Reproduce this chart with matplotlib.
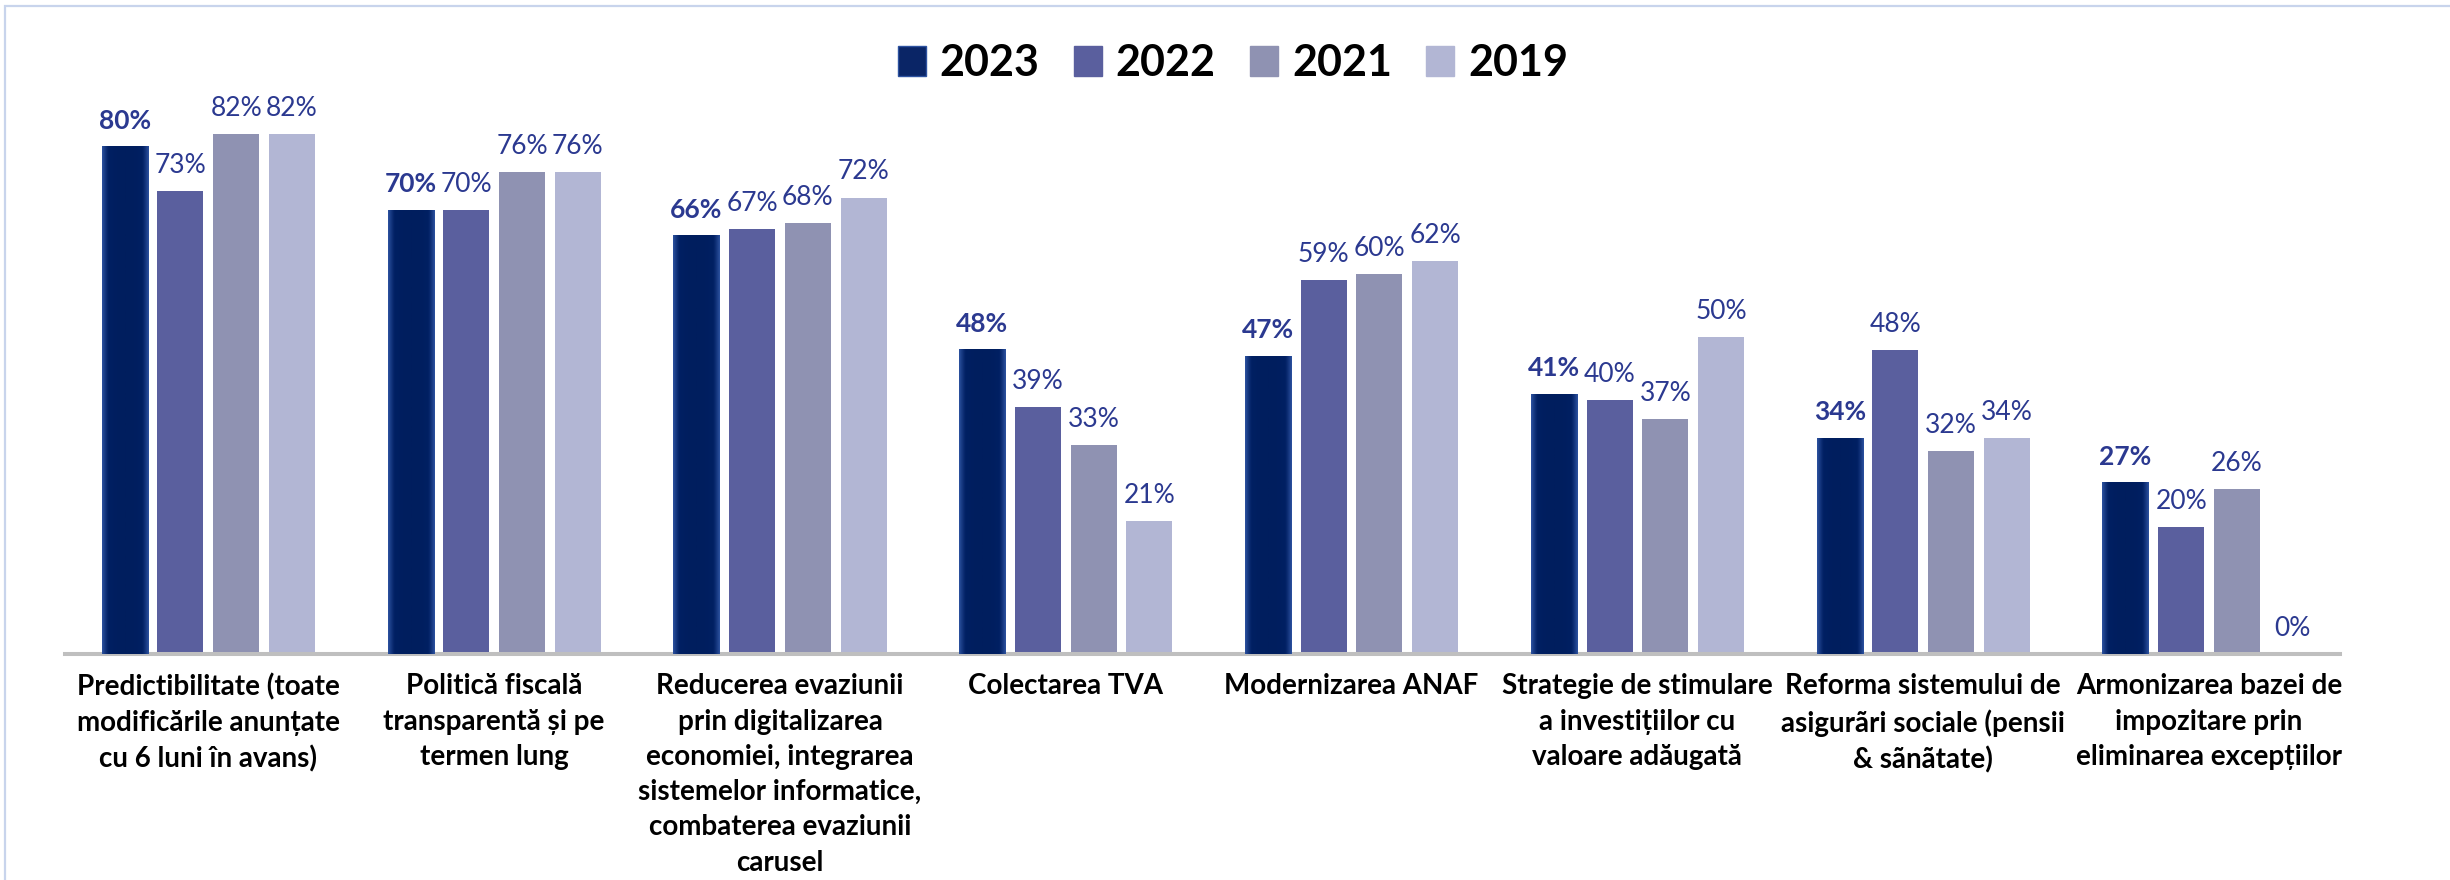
import numpy as np
import matplotlib
matplotlib.use("Agg")
import matplotlib.pyplot as plt
from matplotlib.patches import Patch, Rectangle
from matplotlib.colors import LinearSegmentedColormap

plt.rcParams['font.family'] = ['Lato', 'DejaVu Sans']

categories = [
    "Predictibilitate (toate\nmodificările anunțate\ncu 6 luni în avans)",
    "Politică fiscală\ntransparentă și pe\ntermen lung",
    "Reducerea evaziunii\nprin digitalizarea\neconomiei, integrarea\nsistemelor informatice,\ncombaterea evaziunii\ncarusel",
    "Colectarea TVA",
    "Modernizarea ANAF",
    "Strategie de stimulare\na investițiilor cu\nvaloare adăugată",
    "Reforma sistemului de\nasigurãri sociale (pensii\n& sãnãtate)",
    "Armonizarea bazei de\nimpozitare prin\neliminarea excepțiilor",
]
years = ["2023", "2022", "2021", "2019"]
v2023 = [80, 70, 66, 48, 47, 41, 34, 27]
v2022 = [73, 70, 67, 39, 59, 40, 48, 20]
v2021 = [82, 76, 68, 33, 60, 37, 32, 26]
v2019 = [82, 76, 72, 21, 62, 50, 34, 0]
series = [v2023, v2022, v2021, v2019]

colors = ["#0A2566", "#5A5F9E", "#8F92B2", "#B2B6D4"]
label_color = "#2B3990"

W, H = 2450, 880
fig = plt.figure(figsize=(W / 100, H / 100), dpi=100)
fig.patch.set_facecolor("white")

ax_left, ax_right = 65.4, 2352.0
ax_top, ax_bottom = 20.0, 654.0
ax = fig.add_axes([ax_left / W, 1 - ax_bottom / H, (ax_right - ax_left) / W, (ax_bottom - ax_top) / H])

x = np.arange(len(categories))
bw = 0.161
step = 0.195
offsets = [-1.5 * step, -0.5 * step, 0.5 * step, 1.5 * step]

grad_cmap = LinearSegmentedColormap.from_list("g", ["#001E5E", "#012063", "#2D52A0"])
grad = np.abs(np.linspace(-1, 1, 128)) ** 2.2
grad = grad[np.newaxis, :]

for i, (vals, col, off) in enumerate(zip(series, colors, offsets)):
    bars = ax.bar(x + off, vals, width=bw, color=col, edgecolor="none", zorder=2)
    if i == 0:
        for b in bars:
            x0, y0 = b.get_x(), b.get_y()
            ax.imshow(grad, cmap=grad_cmap, aspect="auto", interpolation="bicubic",
                      extent=[x0, x0 + b.get_width(), y0, y0 + b.get_height()],
                      clip_path=b, zorder=3)
    for xi, v in zip(x + off, vals):
        ax.annotate(f"{v}%", xy=(xi, v), xytext=(0, 13), textcoords="offset points",
                    ha="center", va="baseline", fontsize=19, color=label_color,
                    fontweight="bold" if i == 0 else "normal", zorder=4)

ax.set_xlim(-0.5, 7.5)
ax.set_ylim(0, 100)
ax.set_yticks([])
ax.set_xticks(x)
ax.set_xticklabels(categories, fontsize=20, fontweight="bold", color="black", linespacing=1.44)
ax.tick_params(axis="x", length=0, pad=14)
for s in ["left", "right", "top"]:
    ax.spines[s].set_visible(False)
ax.spines["bottom"].set_color("#BFBFBF")
ax.spines["bottom"].set_linewidth(2.9)
ax.spines["bottom"].set_bounds(-0.5, 7.459)
ax.set_facecolor("none")

handles = [Patch(facecolor=c, edgecolor=("#2D52A0" if k == 0 else c)) for k, c in enumerate(colors)]
fig.legend(handles, years, loc="center", bbox_to_anchor=(1233 / W, 1 - 63 / H), ncol=4,
           frameon=False, prop={"family": "Lato", "weight": "bold", "size": 31},
           handlelength=0.65, handleheight=0.70, handletextpad=0.32, columnspacing=0.8,
           borderaxespad=0, borderpad=0)

border = Rectangle((5 / W, -0.2), 1.2, 1.2 - 6 / H + 0.0, transform=fig.transFigure,
                   fill=False, edgecolor="#C8D4EC", linewidth=1.6, clip_on=False)
fig.add_artist(border)

fig.savefig("out.png", dpi=100, facecolor="white")
